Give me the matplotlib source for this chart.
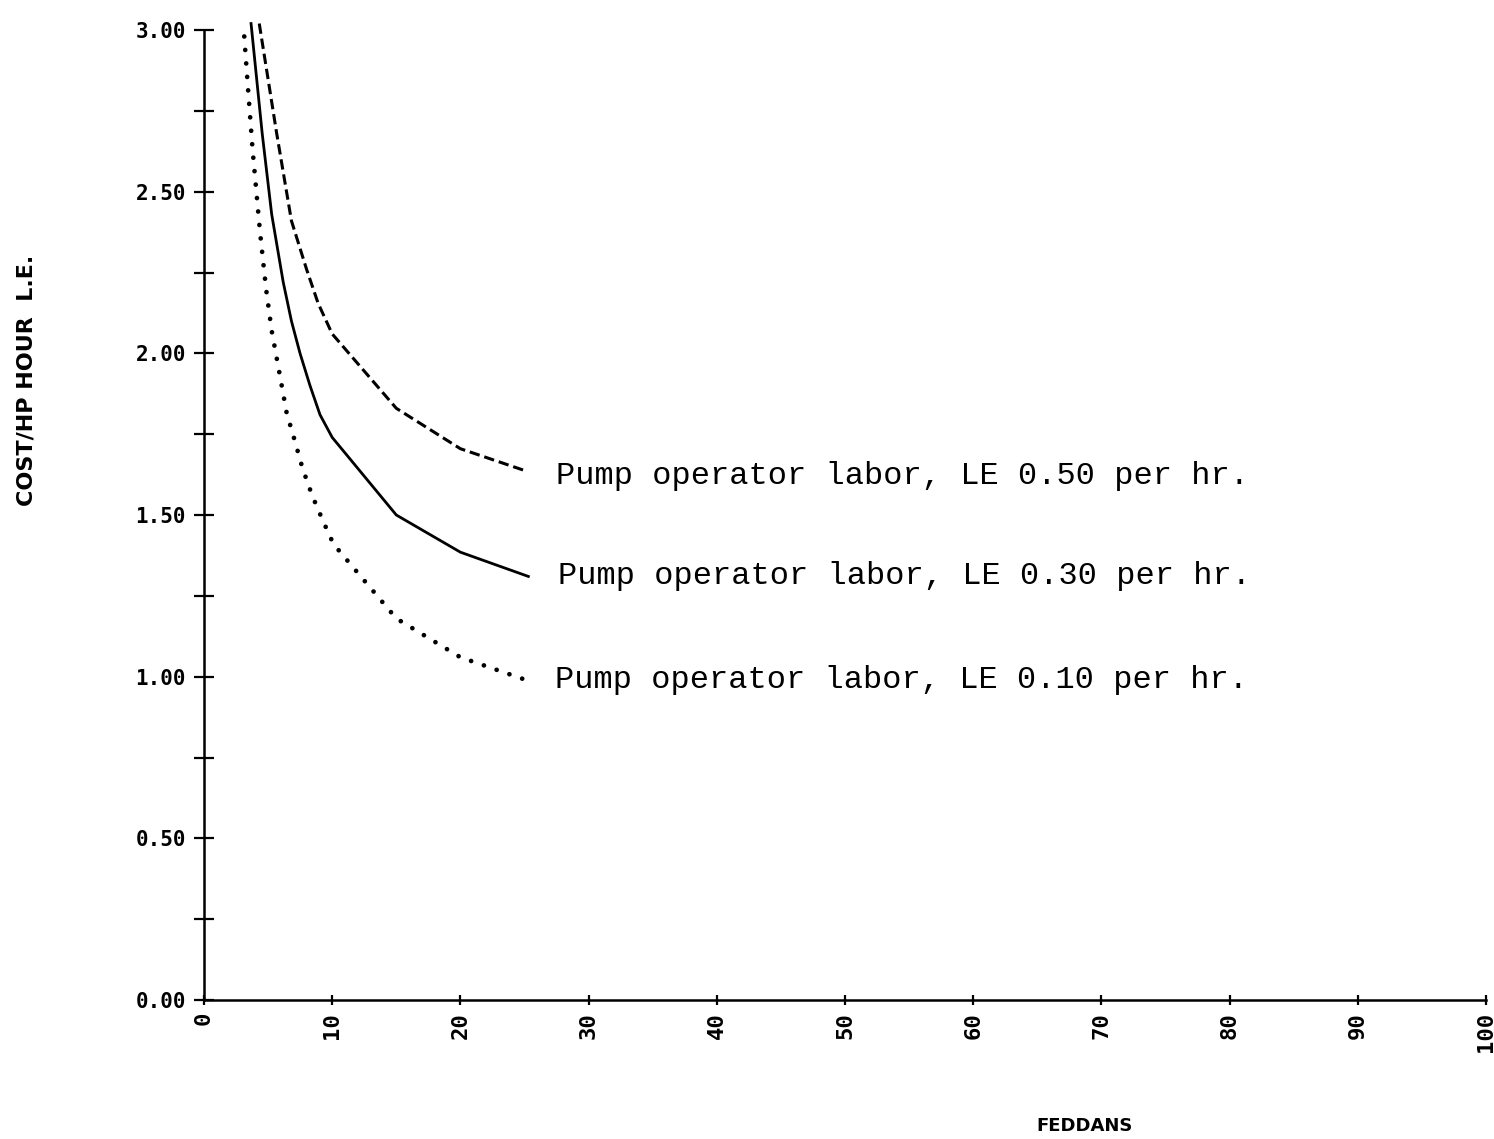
import matplotlib
matplotlib.use("Agg")
import matplotlib.pyplot as plt

# Data
x_050 = [4.31, 5.67, 6.82, 8.0, 8.9, 10, 15, 20, 25.2]
y_050 = [3.02, 2.68, 2.41, 2.26, 2.155, 2.06, 1.83, 1.705, 1.635]

x_030 = [3.67, 4.54, 5.28, 6.18, 6.82, 7.49, 8.27, 9.05, 10, 15, 20, 25.3]
y_030 = [3.02, 2.68, 2.43, 2.22, 2.10, 2.00, 1.90, 1.81, 1.74, 1.50, 1.385, 1.31]

x_010 = [3.14, 3.45, 3.79, 4.37, 4.84, 5.28, 5.88, 6.45, 7.08, 7.68, 8.44, 9.3, 10.1, 15, 20, 25.1]
y_010 = [2.98, 2.81, 2.63, 2.375, 2.20, 2.07, 1.94, 1.815, 1.73, 1.645, 1.56, 1.48, 1.41, 1.18, 1.06, 0.99]

labels = ["Pump operator labor, LE 0.50 per hr.",
          "Pump operator labor, LE 0.30 per hr.",
          "Pump operator labor, LE 0.10 per hr."]

x_ticks = [0, 10, 20, 30, 40, 50, 60, 70, 80, 90, 100]
y_major = [0.0, 0.5, 1.0, 1.5, 2.0, 2.5, 3.0]
y_minor = [0.25, 0.75, 1.25, 1.75, 2.25, 2.75]
y_ticklabels = ["0.00", "0.50", "1.00", "1.50", "2.00", "2.50", "3.00"]

fig = plt.figure(figsize=(14.94, 11.39), dpi=100)
ax = fig.add_axes([204/1494, 1 - 1000/1139, (1486 - 204)/1494, (1000 - 30)/1139])

ax.plot(x_050, y_050, color="black", lw=2.2, linestyle=(0, (3.4, 1.6)), clip_on=False)
ax.plot(x_030, y_030, color="black", lw=2.0, linestyle="-", clip_on=False)
ax.plot(x_010, y_010, color="black", lw=3.4, linestyle=(0, (0.01, 2.85)),
        dash_capstyle="round", clip_on=False)

mono = "Liberation Mono"
for xs, ys, lab, dy in [(x_050, y_050, labels[0], -3), (x_030, y_030, labels[1], 0),
                        (x_010, y_010, labels[2], 0)]:
    ax.annotate(lab, xy=(xs[-1], ys[-1]), xytext=(21, dy), textcoords="offset points",
                ha="left", va="center", fontsize=23, family=mono, color="black")

ax.set_xlim(0, 100)
ax.set_ylim(0, 3.0)

for s in ["top", "right"]:
    ax.spines[s].set_visible(False)
ax.spines["left"].set_linewidth(1.8)
ax.spines["bottom"].set_linewidth(1.8)

ax.set_yticks(y_major)
ax.set_yticklabels(y_ticklabels, family="DejaVu Sans Mono", fontweight="bold", fontsize=15)
ax.set_yticks(y_minor, minor=True)
ax.tick_params(axis="y", which="both", direction="inout", length=14, width=1.6, pad=6)

ax.set_xticks(x_ticks)
ax.set_xticklabels([str(v) for v in x_ticks], rotation=90, family="DejaVu Sans Mono",
                   fontweight="bold", fontsize=16, va="top")
ax.tick_params(axis="x", which="major", direction="inout", length=7, width=1.6, pad=5)

fig.text(27/1494, 1 - 380/1139, "COST/HP HOUR  L.E.", rotation=90, ha="center", va="center",
         fontsize=16, fontweight="bold", family="DejaVu Sans")
fig.text(1085/1494, 1 - 1126/1139, "FEDDANS", ha="center", va="center",
         fontsize=13, fontweight="bold", family="DejaVu Sans")

fig.savefig("out.png", dpi=100, facecolor="white")
